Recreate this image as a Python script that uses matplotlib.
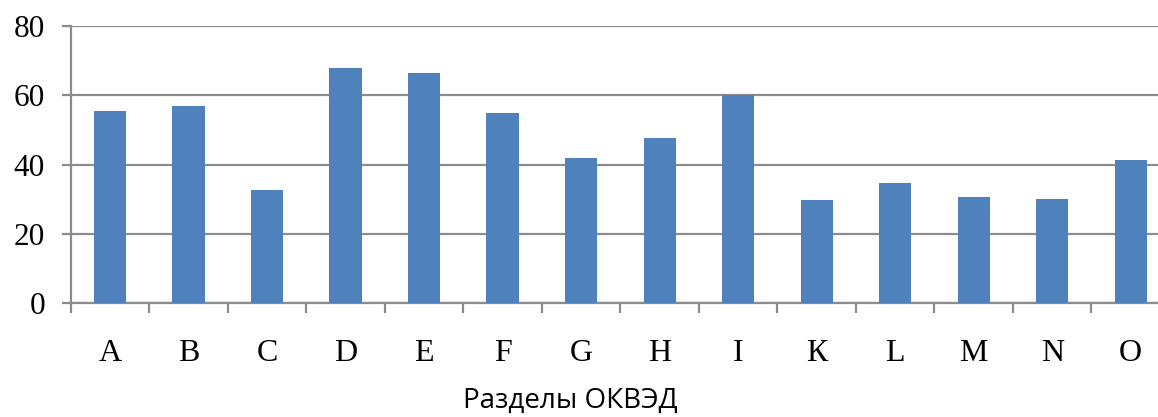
import numpy as np
import matplotlib
matplotlib.use("Agg")
import matplotlib.pyplot as plt

# Sections of OKVED and values
sections = ["A", "B", "C", "D", "E", "F", "G", "H", "I", "К", "L", "M", "N", "O"]
values = [55.5, 57.0, 32.7, 68.0, 66.4, 55.0, 41.9, 47.7, 60.0, 29.8, 34.7, 30.6, 30.1, 41.3]
y_ticks = [0, 20, 40, 60, 80]
x_title = "Разделы ОКВЭД"

W, H = 1158, 417
fig = plt.figure(figsize=(W/100, H/100), dpi=100)
ax = fig.add_axes([70.7/W, 114/H, (1170-70.7)/W, 277/H])

x = np.arange(len(sections))
ax.bar(x, values, width=0.41, color="#4F81BD", zorder=3)

ax.set_xlim(-0.5, len(sections)-0.5)
ax.set_ylim(0, 80)
ax.set_yticks(y_ticks)
ax.yaxis.grid(True, color="#8C8C8C", linewidth=1.6, zorder=0)
ax.set_axisbelow(True)

ax.set_xticks(x)
ax.set_xticklabels(sections, fontfamily="Liberation Serif", fontsize=23)
ax.set_xticks(np.arange(len(sections)+1)-0.5, minor=True)
ax.tick_params(axis="x", which="major", length=0, pad=26)
ax.tick_params(axis="x", which="minor", length=7.5, width=1.6, color="#8C8C8C")
ax.tick_params(axis="y", length=6.5, width=1.6, color="#8C8C8C", pad=12)
for lab in ax.get_yticklabels():
    lab.set_fontfamily("Liberation Serif")
    lab.set_fontsize(22.5)

for s in ["top", "right"]:
    ax.spines[s].set_visible(False)
for s in ["left", "bottom"]:
    ax.spines[s].set_color("#8C8C8C")
    ax.spines[s].set_linewidth(1.6)
ax.spines["left"].set_bounds(0, 80)

fig.text(570/W, 1-401/H, x_title, ha="center", va="center",
         fontfamily="Open Sans", fontsize=20)

fig.savefig("out.png", dpi=100)
